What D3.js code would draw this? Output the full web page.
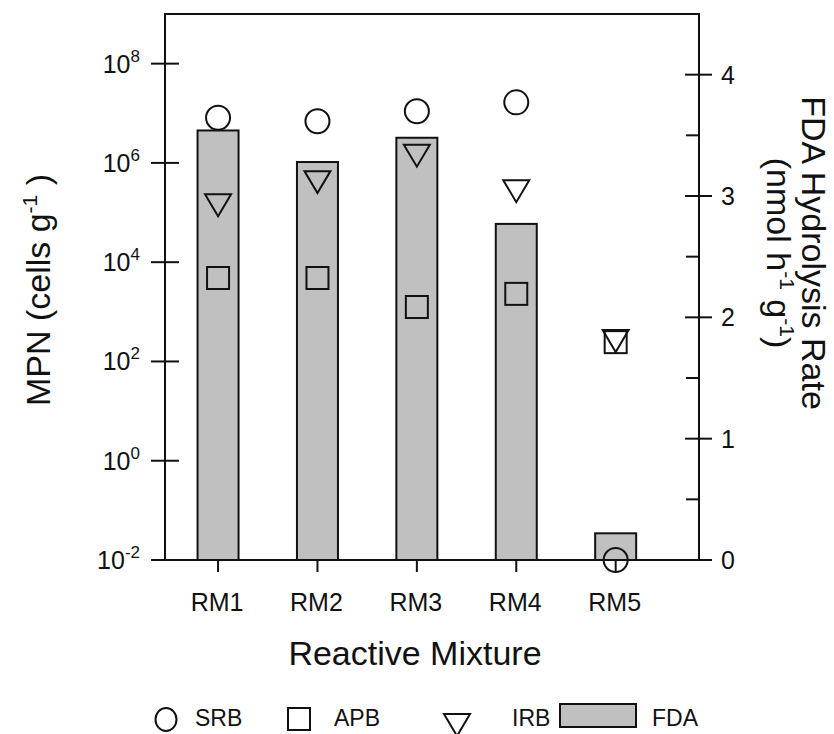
<!DOCTYPE html>
<html>
<head>
<meta charset="utf-8">
<script src="https://cdn.jsdelivr.net/npm/d3@7"></script>
<style>
  html, body { margin: 0; padding: 0; background: #fff; }
  svg { display: block; }
  text { font-family: "Liberation Sans", Arial, sans-serif; fill: #111; }
</style>
</head>
<body>
<svg id="chart" width="834" height="734"></svg>
<script>
// ---- data ----
const categories = ["RM1", "RM2", "RM3", "RM4", "RM5"];
const fdaRate = [3.54, 3.28, 3.48, 2.77, 0.22];          // nmol h-1 g-1 (right axis)
const srb = [8.1e6, 6.9e6, 1.1e7, 1.66e7, 0.01];          // MPN cells g-1
const apb = [4.8e3, 4.8e3, 1.25e3, 2.3e3, 245];
const irb = [1.4e5, 4.1e5, 1.4e6, 2.7e5, 257];
const leftTickExps = [-2, 0, 2, 4, 6, 8];
const rightTicks = [0, 1, 2, 3, 4];
const rightMinorTicks = [0.5, 1.5, 2.5, 3.5];
const legendItems = ["SRB", "APB", "IRB", "FDA"];

// ---- layout ----
const L = 165, R = 699, T = 14, B = 560;
const ink = "#111";
const svg = d3.select("#chart");

const x = d3.scalePoint().domain(categories).range([L, R]).padding(0.686).align(0.389);
const yL = d3.scaleLog().domain([1e-2, 1e9]).range([B, T]);
const yR = d3.scaleLinear().domain([0, 4.5]).range([B, T]);
const barW = 41;

// bars
svg.append("g").selectAll("rect").data(categories).join("rect")
  .attr("x", d => x(d) - barW / 2)
  .attr("y", (d, i) => yR(fdaRate[i]))
  .attr("width", barW)
  .attr("height", (d, i) => B - yR(fdaRate[i]))
  .attr("fill", "#c0c0c0").attr("stroke", ink).attr("stroke-width", 2);

// frame
svg.append("path")
  .attr("d", `M${L},${B}V${T}H${R}V${B}H${L}Z`)
  .attr("fill", "none").attr("stroke", ink).attr("stroke-width", 2);

// left axis ticks & labels
const gl = svg.append("g");
leftTickExps.forEach(e => {
  const yy = yL(Math.pow(10, e));
  gl.append("line").attr("x1", L - 14).attr("x2", L + 14).attr("y1", yy).attr("y2", yy)
    .attr("stroke", ink).attr("stroke-width", 2);
  const t = gl.append("text").attr("x", 140).attr("y", yy + 9)
    .attr("text-anchor", "end").attr("font-size", 25);
  t.append("tspan").text("10");
  t.append("tspan").attr("dy", -11).attr("font-size", 17).text(String(e));
});

// right axis ticks & labels
const gr = svg.append("g");
rightTicks.forEach(v => {
  const yy = yR(v);
  gr.append("line").attr("x1", R - 14).attr("x2", R + 13).attr("y1", yy).attr("y2", yy)
    .attr("stroke", ink).attr("stroke-width", 2);
  gr.append("text").attr("x", 721).attr("y", yy + 9)
    .attr("font-size", 25).text(v);
});
rightMinorTicks.forEach(v => {
  const yy = yR(v);
  gr.append("line").attr("x1", R - 13).attr("x2", R).attr("y1", yy).attr("y2", yy)
    .attr("stroke", ink).attr("stroke-width", 2);
});

// x axis ticks & labels
const gx = svg.append("g");
categories.forEach(c => {
  gx.append("line").attr("x1", x(c)).attr("x2", x(c)).attr("y1", B).attr("y2", B + 12)
    .attr("stroke", ink).attr("stroke-width", 2);
  gx.append("text").attr("x", x(c) - 1).attr("y", 611).attr("text-anchor", "middle")
    .attr("font-size", 25).text(c);
});

// markers
function tri(cx, cy, w, h) {
  return `M${cx - w / 2},${cy - h / 2}L${cx + w / 2},${cy - h / 2}L${cx},${cy + h / 2}Z`;
}
const gm = svg.append("g").attr("fill", "none").attr("stroke", ink).attr("stroke-width", 2);
categories.forEach((c, i) => {
  const cx = x(c);
  gm.append("rect").attr("x", cx - 11).attr("y", yL(apb[i]) - 11).attr("width", 22).attr("height", 22);
  gm.append("path").attr("d", tri(cx, yL(irb[i]), 26, 22));
  gm.append("circle").attr("cx", cx).attr("cy", yL(srb[i])).attr("r", 12);
});

// axis titles
const lt = svg.append("text").attr("transform", "translate(50,290) rotate(-90)")
  .attr("text-anchor", "middle").attr("font-size", 34);
lt.append("tspan").text("MPN (cells g");
lt.append("tspan").attr("dy", -13).attr("font-size", 21).text("-1");
lt.append("tspan").attr("dy", 13).text(" )");

svg.append("text").attr("transform", "translate(802,253) rotate(90)")
  .attr("text-anchor", "middle").attr("font-size", 34).text("FDA Hydrolysis Rate");
const rt2 = svg.append("text").attr("transform", "translate(767,253) rotate(90)")
  .attr("text-anchor", "middle").attr("font-size", 34);
rt2.append("tspan").text("(nmol h");
rt2.append("tspan").attr("dy", -13).attr("font-size", 21).text("-1");
rt2.append("tspan").attr("dy", 13).text(" g");
rt2.append("tspan").attr("dy", -13).attr("font-size", 21).text("-1");
rt2.append("tspan").attr("dy", 13).text(")");

svg.append("text").attr("x", 415).attr("y", 665).attr("text-anchor", "middle")
  .attr("font-size", 34).text("Reactive Mixture");

// legend
const lg = svg.append("g");
const lgStroke = { fill: "none", stroke: ink, "stroke-width": 2 };
function applyAttrs(sel, o) { Object.entries(o).forEach(([k, v]) => sel.attr(k, v)); return sel; }
applyAttrs(lg.append("ellipse").attr("cx", 166).attr("cy", 719.5).attr("rx", 10.5).attr("ry", 11.5), lgStroke);
applyAttrs(lg.append("rect").attr("x", 288).attr("y", 708).attr("width", 22).attr("height", 22), lgStroke);
applyAttrs(lg.append("path").attr("d", tri(457, 725, 26, 22)), lgStroke);
lg.append("rect").attr("x", 560).attr("y", 704).attr("width", 76).attr("height", 23)
  .attr("fill", "#c0c0c0").attr("stroke", ink).attr("stroke-width", 2);
const lgTextX = [195, 334, 512, 652];
legendItems.forEach((s, i) => {
  lg.append("text").attr("x", lgTextX[i]).attr("y", 726).attr("font-size", 23).text(s);
});
</script>
</body>
</html>
